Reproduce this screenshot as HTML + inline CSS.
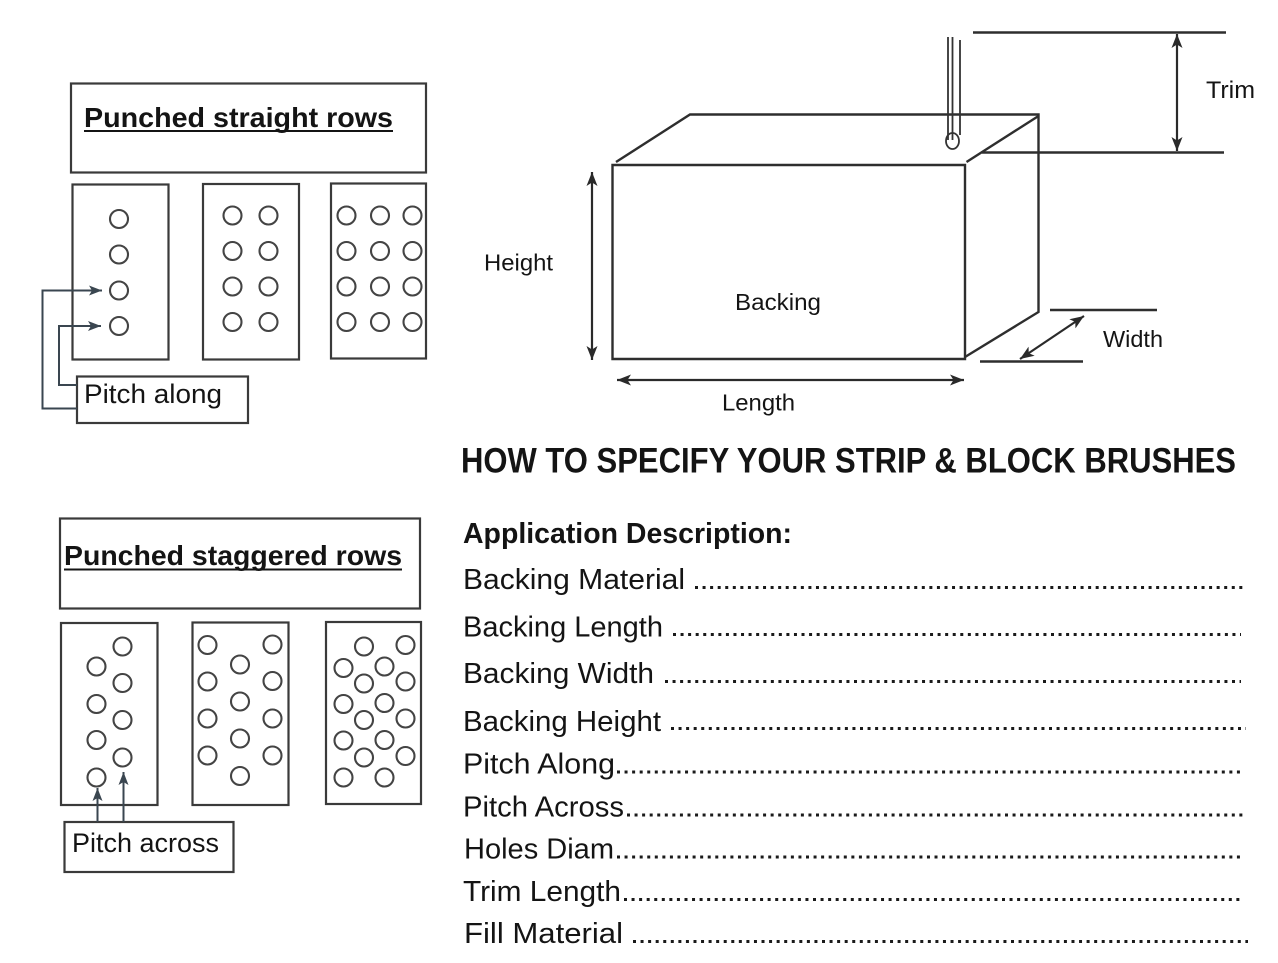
<!DOCTYPE html>
<html><head><meta charset="utf-8"><style>
html,body{margin:0;padding:0;background:#fff;}
svg{display:block;}
text{font-family:"Liberation Sans",Arial,sans-serif;fill:#141414;}
</style></head><body>
<svg width="1278" height="963" viewBox="0 0 1278 963" xmlns="http://www.w3.org/2000/svg">
<defs>
<marker id="ah" markerUnits="userSpaceOnUse" markerWidth="16" markerHeight="12" refX="14" refY="6" orient="auto-start-reverse">
<path d="M0,0.5 L14,6 L0,11.5 L3.5,6 Z" fill="#2a2a2a"/>
</marker>
<marker id="ab" markerUnits="userSpaceOnUse" markerWidth="16" markerHeight="12" refX="13" refY="6" orient="auto-start-reverse">
<path d="M0,1 L13,6 L0,11 L3,6 Z" fill="#3a4650"/>
</marker>
</defs>

<!-- ===== Punched straight rows ===== -->
<g fill="none" stroke="#3a3a3a" stroke-width="2.2">
<rect x="71" y="83.5" width="355" height="89"/>
<rect x="72.5" y="184.5" width="96" height="175"/>
<rect x="203" y="184" width="96" height="175.5"/>
<rect x="331" y="183.5" width="95" height="175"/>
<rect x="77" y="376.5" width="171" height="46.5"/>
</g>
<text x="84" y="127" font-weight="bold" font-size="28" textLength="309" lengthAdjust="spacingAndGlyphs">Punched straight rows</text>
<line x1="84" y1="131" x2="393" y2="131" stroke="#141414" stroke-width="2"/>
<text x="84" y="403" font-size="27" textLength="138" lengthAdjust="spacingAndGlyphs">Pitch along</text>
<g fill="none" stroke="#444" stroke-width="2.1">
<circle cx="119" cy="219" r="9"/><circle cx="119" cy="254.5" r="9"/><circle cx="119" cy="290.5" r="9"/><circle cx="119" cy="326" r="9"/>
<circle cx="232.5" cy="215.5" r="9"/><circle cx="268.5" cy="215.5" r="9"/>
<circle cx="232.5" cy="251" r="9"/><circle cx="268.5" cy="251" r="9"/>
<circle cx="232.5" cy="286.5" r="9"/><circle cx="268.5" cy="286.5" r="9"/>
<circle cx="232.5" cy="322" r="9"/><circle cx="268.5" cy="322" r="9"/>
<circle cx="346.5" cy="215.5" r="9"/><circle cx="380" cy="215.5" r="9"/><circle cx="412.5" cy="215.5" r="9"/>
<circle cx="346.5" cy="251" r="9"/><circle cx="380" cy="251" r="9"/><circle cx="412.5" cy="251" r="9"/>
<circle cx="346.5" cy="286.5" r="9"/><circle cx="380" cy="286.5" r="9"/><circle cx="412.5" cy="286.5" r="9"/>
<circle cx="346.5" cy="322" r="9"/><circle cx="380" cy="322" r="9"/><circle cx="412.5" cy="322" r="9"/>
</g>
<g fill="none" stroke="#3a4650" stroke-width="2">
<path d="M77,408.5 H42.5 V290.5 H102" marker-end="url(#ab)"/>
<path d="M77,385 H59 V326 H101" marker-end="url(#ab)"/>
</g>

<!-- ===== Punched staggered rows ===== -->
<g fill="none" stroke="#3a3a3a" stroke-width="2.2">
<rect x="60" y="518.5" width="360" height="90"/>
<rect x="61" y="623" width="96.5" height="182"/>
<rect x="192.5" y="622.5" width="96" height="182.5"/>
<rect x="326" y="622" width="95" height="182"/>
<rect x="64.5" y="822" width="169" height="50"/>
</g>
<text x="64" y="565" font-weight="bold" font-size="28" textLength="338" lengthAdjust="spacingAndGlyphs">Punched staggered rows</text>
<line x1="64" y1="569.5" x2="402" y2="569.5" stroke="#141414" stroke-width="2"/>
<text x="72" y="852" font-size="27" textLength="147" lengthAdjust="spacingAndGlyphs">Pitch across</text>
<g fill="none" stroke="#444" stroke-width="2.1">
<circle cx="96.5" cy="666.5" r="9"/><circle cx="96.5" cy="704" r="9"/><circle cx="96.5" cy="740" r="9"/><circle cx="96.5" cy="777.5" r="9"/>
<circle cx="122.5" cy="646.5" r="9"/><circle cx="122.5" cy="683" r="9"/><circle cx="122.5" cy="720" r="9"/><circle cx="122.5" cy="757.5" r="9"/>
<circle cx="207.5" cy="645" r="9"/><circle cx="207.5" cy="681.5" r="9"/><circle cx="207.5" cy="718.5" r="9"/><circle cx="207.5" cy="755.5" r="9"/>
<circle cx="240" cy="664.5" r="9"/><circle cx="240" cy="701.5" r="9"/><circle cx="240" cy="738.5" r="9"/><circle cx="240" cy="776" r="9"/>
<circle cx="272.5" cy="644.5" r="9"/><circle cx="272.5" cy="681" r="9"/><circle cx="272.5" cy="718.5" r="9"/><circle cx="272.5" cy="755.5" r="9"/>
<circle cx="364" cy="646.5" r="9"/><circle cx="405.5" cy="645" r="9"/>
<circle cx="343.5" cy="668" r="9"/><circle cx="384.5" cy="666.5" r="9"/>
<circle cx="364" cy="683.5" r="9"/><circle cx="405.5" cy="681.5" r="9"/>
<circle cx="343.5" cy="704" r="9"/><circle cx="384.5" cy="703" r="9"/>
<circle cx="364" cy="720" r="9"/><circle cx="405.5" cy="718.5" r="9"/>
<circle cx="343.5" cy="740.5" r="9"/><circle cx="384.5" cy="740" r="9"/>
<circle cx="364" cy="757.5" r="9"/><circle cx="405.5" cy="756" r="9"/>
<circle cx="343.5" cy="777.5" r="9"/><circle cx="384.5" cy="777.5" r="9"/>
</g>
<g fill="none" stroke="#3a4650" stroke-width="2">
<path d="M97.5,822 V788" marker-end="url(#ab)"/>
<path d="M123.5,822 V772" marker-end="url(#ab)"/>
</g>

<!-- ===== Block diagram ===== -->
<g fill="none" stroke="#2e2e2e" stroke-width="2.4" stroke-linejoin="miter">
<path d="M612.5,165 H965 V359 H612.5 Z"/>
<path d="M616,162 L690,114.5 H1038.5 V312 L965,357"/>
<path d="M966.5,162 L1038.5,116"/>
<line x1="973" y1="32.5" x2="1226" y2="32.5"/>
<line x1="982" y1="152.5" x2="1224" y2="152.5"/>
<line x1="1050" y1="310" x2="1157" y2="310"/>
<line x1="980" y1="361.5" x2="1083" y2="361.5"/>
</g>
<!-- bristle -->
<g fill="none" stroke="#333" stroke-width="1.8">
<line x1="948" y1="37" x2="948" y2="140"/>
<line x1="952.5" y1="37" x2="952.5" y2="140"/>
<line x1="960" y1="40" x2="960" y2="135"/>
<ellipse cx="952.5" cy="141" rx="6.5" ry="8"/>
</g>
<!-- dimension arrows -->
<g fill="none" stroke="#2a2a2a" stroke-width="2.2">
<line x1="1177" y1="34" x2="1177" y2="151" marker-start="url(#ah)" marker-end="url(#ah)"/>
<line x1="592" y1="172" x2="592" y2="360" marker-start="url(#ah)" marker-end="url(#ah)"/>
<line x1="617" y1="380" x2="964" y2="380" marker-start="url(#ah)" marker-end="url(#ah)"/>
<line x1="1020" y1="359" x2="1084" y2="316" marker-start="url(#ah)" marker-end="url(#ah)"/>
</g>
<text x="1206" y="98" font-size="24" textLength="49" lengthAdjust="spacingAndGlyphs">Trim</text>
<text x="484" y="270.5" font-size="23" textLength="69" lengthAdjust="spacingAndGlyphs">Height</text>
<text x="735" y="310" font-size="23" textLength="86" lengthAdjust="spacingAndGlyphs">Backing</text>
<text x="722" y="410.5" font-size="23" textLength="73" lengthAdjust="spacingAndGlyphs">Length</text>
<text x="1103" y="347" font-size="23" textLength="60" lengthAdjust="spacingAndGlyphs">Width</text>

<!-- ===== Specification text ===== -->
<text x="461" y="472.5" font-weight="bold" font-size="35" textLength="775" lengthAdjust="spacingAndGlyphs">HOW TO SPECIFY YOUR STRIP &amp; BLOCK BRUSHES</text>
<text x="463" y="543" font-weight="bold" font-size="29" textLength="329" lengthAdjust="spacingAndGlyphs">Application Description:</text>

<g font-size="29">
<text x="463" y="589" textLength="222" lengthAdjust="spacingAndGlyphs">Backing Material</text>
<text x="463" y="636.5" textLength="200" lengthAdjust="spacingAndGlyphs">Backing Length</text>
<text x="463" y="683" textLength="191" lengthAdjust="spacingAndGlyphs">Backing Width</text>
<text x="463" y="731" textLength="198" lengthAdjust="spacingAndGlyphs">Backing Height</text>
<text x="463" y="773.5" textLength="152" lengthAdjust="spacingAndGlyphs">Pitch Along</text>
<text x="463" y="816.5" textLength="161" lengthAdjust="spacingAndGlyphs">Pitch Across</text>
<text x="464" y="858.5" textLength="150" lengthAdjust="spacingAndGlyphs">Holes Diam</text>
<text x="463" y="901" textLength="158" lengthAdjust="spacingAndGlyphs">Trim Length</text>
<text x="464" y="943" textLength="159" lengthAdjust="spacingAndGlyphs">Fill Material</text>
</g>
<g stroke="#1a1a1a" stroke-width="3" stroke-dasharray="3 4.56">
<line x1="695" y1="587.5" x2="1244" y2="587.5"/>
<line x1="673" y1="634.5" x2="1241" y2="634.5"/>
<line x1="665" y1="681.5" x2="1241" y2="681.5"/>
<line x1="671" y1="728.5" x2="1246" y2="728.5"/>
<line x1="617" y1="772" x2="1241" y2="772"/>
<line x1="627" y1="815" x2="1244" y2="815"/>
<line x1="617" y1="857" x2="1241" y2="857"/>
<line x1="624" y1="899.5" x2="1241" y2="899.5"/>
<line x1="633" y1="941.5" x2="1248" y2="941.5"/>
</g>
</svg>
</body></html>
